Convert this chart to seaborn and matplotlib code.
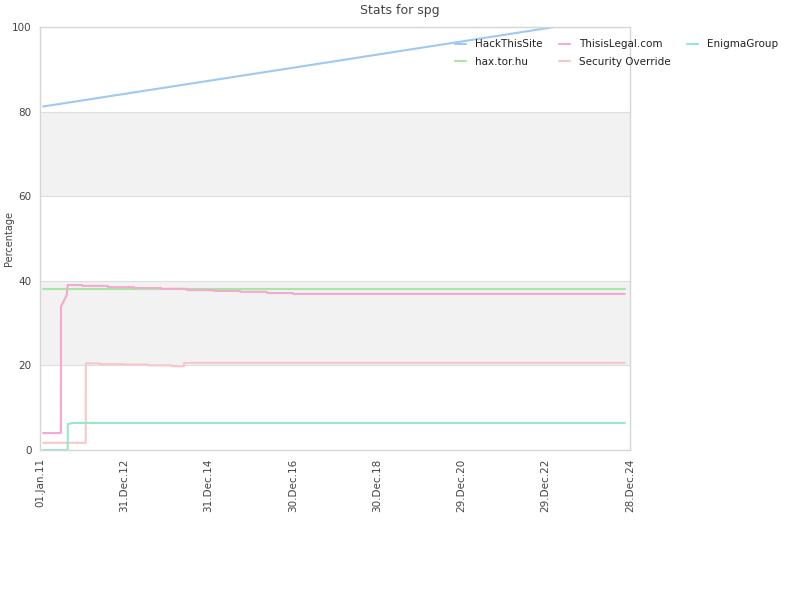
import matplotlib
matplotlib.use("Agg")
import matplotlib.pyplot as plt
import matplotlib.dates as mdates
import seaborn as sns
import pandas as pd

# ---- data ----
hts_dates = ["2011-01-27", "2017-02-01", "2023-03-15", "2024-11-14"]
hts_vals = [81.2, 90.5, 100.0, 100.0]

til_dates = ["2011-01-27", "2011-07-01", "2011-07-02", "2011-08-20", "2011-08-29",
             "2011-12-28", "2011-12-29", "2012-08-09", "2012-08-10", "2013-03-25",
             "2013-03-26", "2013-11-14", "2013-11-15", "2014-06-27", "2014-06-28",
             "2015-02-16", "2015-02-17", "2015-09-29", "2015-09-30", "2016-05-20",
             "2016-05-21", "2016-12-31", "2017-01-01", "2024-11-14"]
til_vals = [4.0, 4.0, 33.9, 36.6, 39.0,
            39.0, 38.8, 38.8, 38.5, 38.5,
            38.3, 38.3, 38.1, 38.1, 37.8,
            37.8, 37.6, 37.6, 37.4, 37.4,
            37.1, 37.1, 36.9, 36.9]

eg_dates = ["2011-01-27", "2011-08-29", "2011-08-30", "2011-10-11", "2024-11-14"]
eg_vals = [0.0, 0.0, 6.1, 6.4, 6.4]

hax_dates = ["2011-01-27", "2024-11-14"]
hax_vals = [38.0, 38.0]

so_dates = ["2011-01-27", "2012-02-01", "2012-02-02", "2012-06-04", "2012-06-05",
            "2012-12-28", "2012-12-29", "2013-07-22", "2013-07-23", "2014-02-17",
            "2014-02-18", "2014-06-01", "2014-06-02", "2024-11-14"]
so_vals = [1.7, 1.7, 20.5, 20.5, 20.3,
           20.3, 20.2, 20.2, 20.0, 20.0,
           19.8, 19.8, 20.6, 20.6]

series = {
    "HackThisSite": (hts_dates, hts_vals),
    "hax.tor.hu": (hax_dates, hax_vals),
    "ThisisLegal.com": (til_dates, til_vals),
    "Security Override": (so_dates, so_vals),
    "EnigmaGroup": (eg_dates, eg_vals),
}
colors = {
    "HackThisSite": "#9ec9f2",
    "hax.tor.hu": "#a6e8a2",
    "ThisisLegal.com": "#f4a9cf",
    "Security Override": "#f8c8c8",
    "EnigmaGroup": "#96e8c8",
}
order = ["HackThisSite", "hax.tor.hu", "ThisisLegal.com", "Security Override", "EnigmaGroup"]

rows = []
for name, (d, v) in series.items():
    for di, vi in zip(d, v):
        rows.append({"date": pd.Timestamp(di), "value": vi, "site": name})
df = pd.DataFrame(rows)

sns.set_style("white")
plt.rcParams["font.family"] = ["DejaVu Sans"]

fig = plt.figure(figsize=(8, 6), dpi=100)
ax = fig.add_axes([40 / 800, 1 - 450 / 600, 590 / 800, 423 / 600])

# alternating bands
for lo, hi in [(20, 40), (60, 80)]:
    ax.axhspan(lo, hi, color="#f2f2f2", zorder=0, lw=0)
for yv in [20, 40, 60, 80]:
    ax.axhline(yv, color="#dedede", lw=0.8, zorder=0.5)

sns.lineplot(data=df, x="date", y="value", hue="site", hue_order=order,
             palette=colors, estimator=None, sort=False, lw=1.5, ax=ax, legend=True)

ax.set_ylim(0, 100)
ax.set_yticks([0, 20, 40, 60, 80, 100])
start = pd.Timestamp("2011-01-01")
end = pd.Timestamp("2024-12-28")
ax.set_xlim(start, end)
ticks = pd.date_range(start, periods=8, freq="730D")
ax.set_xticks(ticks)
ax.xaxis.set_major_formatter(mdates.DateFormatter("%d.%b.%y"))
plt.setp(ax.get_xticklabels(), rotation=90)
ax.tick_params(axis="both", length=0, labelsize=7.5, colors="#444444", pad=6)
for s in ax.spines.values():
    s.set_color("#d6d6d6")
    s.set_linewidth(1.0)
ax.set_xlabel("")
ax.set_ylabel("Percentage", fontsize=7, color="#444444")
ax.yaxis.set_label_coords(-26 / 590, 0.5)

handles, labels = ax.get_legend_handles_labels()
ax.get_legend().remove()
fig.legend(handles, labels, loc="upper left", bbox_to_anchor=(446 / 800, 1 - 30 / 600),
           ncol=3, frameon=False, fontsize=7.5, handlelength=1.0, handletextpad=0.9,
           columnspacing=1.6, labelspacing=0.7, labelcolor="#222222")

fig.suptitle("Stats for spg", fontsize=9, color="#444444", y=1 - 4 / 600, va="top")

fig.savefig("out.png", dpi=100)
